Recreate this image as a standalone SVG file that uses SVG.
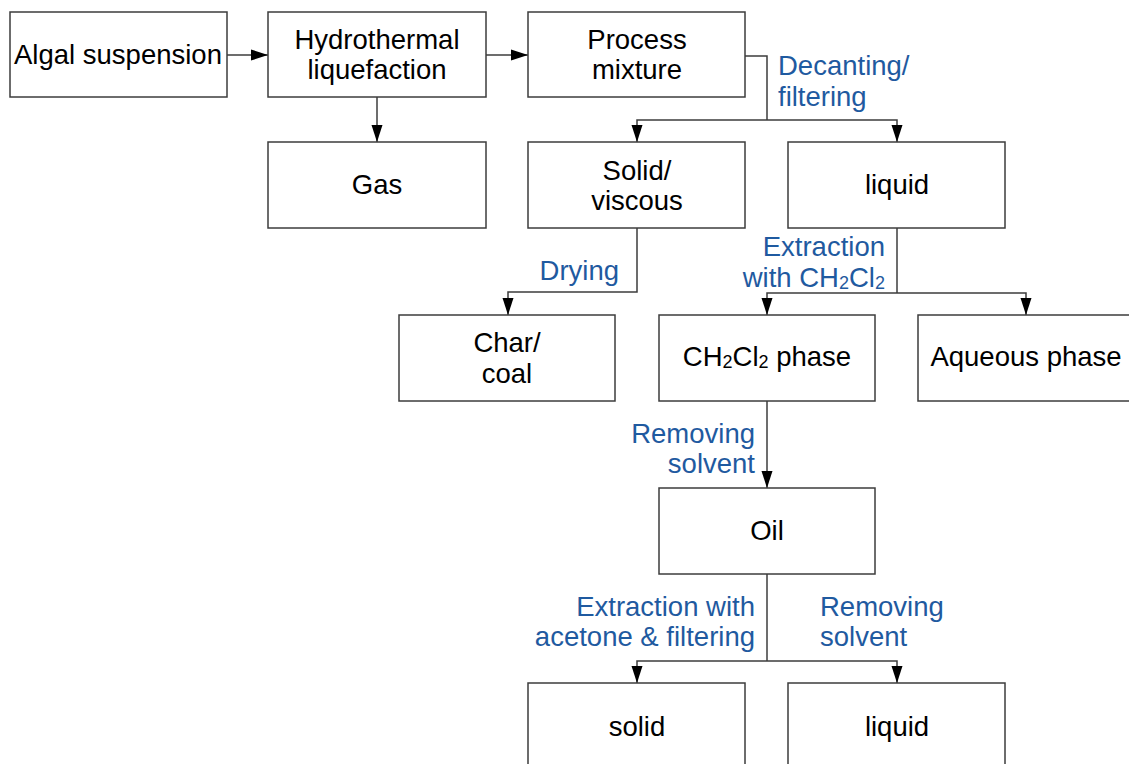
<svg xmlns="http://www.w3.org/2000/svg" width="1129" height="764" viewBox="0 0 1129 764">
<style>
.box{fill:#fff;stroke:#3c3c3c;stroke-width:1.5}
.t{font-family:"Liberation Sans",Arial,sans-serif;font-size:27.5px;fill:#000;text-anchor:middle}
.l{font-family:"Liberation Sans",Arial,sans-serif;font-size:27.5px;fill:#1f5aa0}
.c{fill:none;stroke:#3c3c3c;stroke-width:1.5}
.sub{font-size:18px}
</style>
<defs>
<marker id="ah" markerWidth="17" markerHeight="12" refX="17" refY="6" orient="auto" markerUnits="userSpaceOnUse" viewBox="0 0 17 12">
<path d="M0,0.5 L17,6 L0,11.5 Z" fill="#000"/>
</marker>
</defs>
<rect width="1129" height="764" fill="#fff"/>
<g id="connectors">
<path class="c" d="M227,55 H268" marker-end="url(#ah)"/>
<path class="c" d="M486,55 H528" marker-end="url(#ah)"/>
<path class="c" d="M377,97 V142" marker-end="url(#ah)"/>
<path class="c" d="M745,56 H767 V120"/>
<path class="c" d="M767,120 H637 V142" marker-end="url(#ah)"/>
<path class="c" d="M767,120 H897 V142" marker-end="url(#ah)"/>
<path class="c" d="M637,228 V292 H508 V315" marker-end="url(#ah)"/>
<path class="c" d="M897,228 V293"/>
<path class="c" d="M897,293 H767 V315" marker-end="url(#ah)"/>
<path class="c" d="M897,293 H1026 V315" marker-end="url(#ah)"/>
<path class="c" d="M767,401 V488" marker-end="url(#ah)"/>
<path class="c" d="M767,574 V661"/>
<path class="c" d="M767,661 H637 V683" marker-end="url(#ah)"/>
<path class="c" d="M767,661 H897 V683" marker-end="url(#ah)"/>
</g>
<g id="labels">
<text class="l" x="778" y="75">Decanting/</text>
<text class="l" x="778" y="106">filtering</text>
<text class="l" x="619" y="280" text-anchor="end">Drying</text>
<text class="l" x="885" y="256" text-anchor="end">Extraction</text>
<text class="l" x="885" y="287" text-anchor="end">with CH<tspan class="sub" dy="2">2</tspan><tspan dy="-2">Cl</tspan><tspan class="sub" dy="2">2</tspan></text>
<text class="l" x="755" y="443" text-anchor="end">Removing</text>
<text class="l" x="755" y="473" text-anchor="end">solvent</text>
<text class="l" x="755" y="616" text-anchor="end">Extraction with</text>
<text class="l" x="755" y="646" text-anchor="end">acetone &amp; filtering</text>
<text class="l" x="820" y="616">Removing</text>
<text class="l" x="820" y="646">solvent</text>
</g>
<g id="n-algal"><rect class="box" x="10" y="12" width="217" height="85"/><text class="t" x="118" y="64">Algal suspension</text></g>
<g id="n-htl"><rect class="box" x="268" y="12" width="218" height="85"/><text class="t" x="377" y="49">Hydrothermal</text><text class="t" x="377" y="79">liquefaction</text></g>
<g id="n-process"><rect class="box" x="528" y="12" width="217" height="85"/><text class="t" x="637" y="49">Process</text><text class="t" x="637" y="79">mixture</text></g>
<g id="n-gas"><rect class="box" x="268" y="142" width="218" height="86"/><text class="t" x="377" y="194">Gas</text></g>
<g id="n-solid-viscous"><rect class="box" x="528" y="142" width="217" height="86"/><text class="t" x="637" y="180">Solid/</text><text class="t" x="637" y="210">viscous</text></g>
<g id="n-liquid1"><rect class="box" x="788" y="142" width="217" height="86"/><text class="t" x="897" y="194">liquid</text></g>
<g id="n-char"><rect class="box" x="399" y="315" width="216" height="86"/><text class="t" x="507" y="352">Char/</text><text class="t" x="507" y="383">coal</text></g>
<g id="n-ch2cl2"><rect class="box" x="659" y="315" width="216" height="86"/><text class="t" x="767" y="366">CH<tspan class="sub" dy="2">2</tspan><tspan dy="-2">Cl</tspan><tspan class="sub" dy="2">2</tspan><tspan dy="-2"> phase</tspan></text></g>
<g id="n-aqueous"><rect class="box" x="918" y="315" width="217" height="86"/><text class="t" x="1026" y="366">Aqueous phase</text></g>
<g id="n-oil"><rect class="box" x="659" y="488" width="216" height="86"/><text class="t" x="767" y="540">Oil</text></g>
<g id="n-solid"><rect class="box" x="528" y="683" width="217" height="90"/><text class="t" x="637" y="736">solid</text></g>
<g id="n-liquid2"><rect class="box" x="788" y="683" width="217" height="90"/><text class="t" x="897" y="736">liquid</text></g>
</svg>
